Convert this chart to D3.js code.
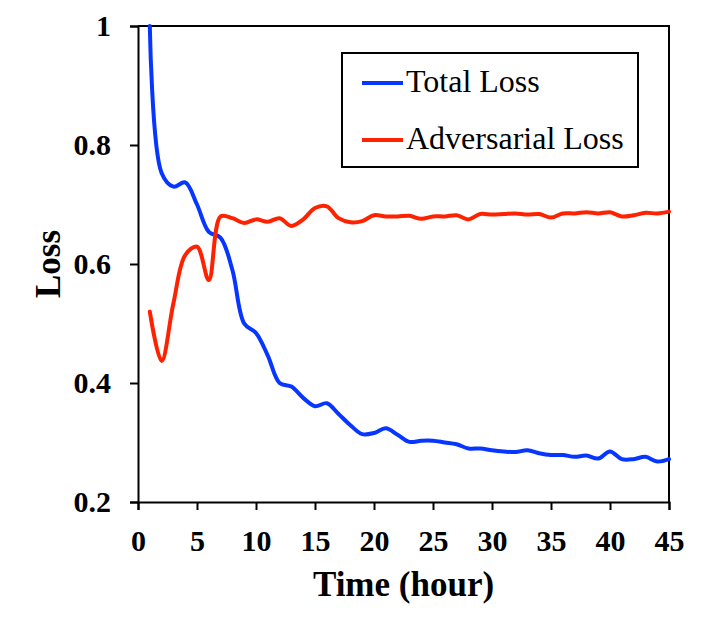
<!DOCTYPE html>
<html>
<head>
<meta charset="utf-8">
<script src="https://cdn.jsdelivr.net/npm/d3@7"></script>
<style>
  body { margin: 0; background: #fff; }
  svg text { font-family: "Liberation Serif", "Times New Roman", serif; }
</style>
</head>
<body>
<div id="chart"></div>
<script>
  const width = 706;
  const height = 629;
  const margin = { top: 26, right: 37, bottom: 127, left: 138 };

  // hours 1..45
  const hours = d3.range(1, 46);
  const totalLoss = [
    1.0, 0.753, 0.730, 0.737, 0.700, 0.654, 0.644, 0.590, 0.500, 0.484,
    0.446, 0.400, 0.394, 0.375, 0.361, 0.366, 0.348, 0.329, 0.314, 0.316,
    0.324, 0.313, 0.301, 0.303, 0.303, 0.300, 0.297, 0.290, 0.290, 0.287,
    0.285, 0.284, 0.287, 0.282, 0.279, 0.279, 0.276, 0.278, 0.273, 0.285,
    0.272, 0.272, 0.276, 0.268, 0.272
  ];
  const adversarialLoss = [
    0.520, 0.437, 0.534, 0.615, 0.629, 0.573, 0.680, 0.677, 0.669, 0.675,
    0.671, 0.677, 0.664, 0.675, 0.694, 0.697, 0.677, 0.670, 0.672, 0.682,
    0.680, 0.680, 0.681, 0.676, 0.680, 0.680, 0.682, 0.675, 0.684, 0.683,
    0.684, 0.685, 0.683, 0.684, 0.678, 0.685, 0.685, 0.687, 0.685, 0.687,
    0.680, 0.682, 0.686, 0.685, 0.688
  ];
  const xTicks = [0, 5, 10, 15, 20, 25, 30, 35, 40, 45];
  const yTicks = [0.2, 0.4, 0.6, 0.8, 1];
  const series = [
    { name: "Total Loss", values: totalLoss, color: "#0636ff" },
    { name: "Adversarial Loss", values: adversarialLoss, color: "#ff2200" }
  ];

  const svg = d3.select("#chart")
    .append("svg")
    .attr("width", width)
    .attr("height", height);

  const x = d3.scaleLinear()
    .domain([0, 45])
    .range([margin.left, width - margin.right]);
  const y = d3.scaleLinear()
    .domain([0.2, 1])
    .range([height - margin.bottom, margin.top]);

  // frame (top and right)
  svg.append("path")
    .attr("d", `M${x(0)},${y(1)}H${x(45)}V${y(0.2)}`)
    .attr("fill", "none")
    .attr("stroke", "#000")
    .attr("stroke-width", 2);

  // axes
  const xAxis = svg.append("g")
    .attr("transform", `translate(0,${y(0.2)})`)
    .call(d3.axisBottom(x).tickValues(xTicks).tickSize(8).tickPadding(20).tickFormat(d3.format("d")));
  const yAxis = svg.append("g")
    .attr("transform", `translate(${x(0)},0)`)
    .call(d3.axisLeft(y).tickValues(yTicks).tickSize(8).tickPadding(19).tickFormat(d => d === 1 ? "1" : d3.format(".1f")(d)));

  [xAxis, yAxis].forEach(g => {
    g.select(".domain").attr("stroke-width", 2).attr("stroke", "#000");
    g.selectAll(".tick line").attr("stroke-width", 2).attr("stroke", "#000");
    g.selectAll(".tick text")
      .attr("fill", "#000")
      .style("font-family", "'Liberation Serif', serif")
      .style("font-size", "30px")
      .style("font-weight", "bold");
  });

  // lines
  const line = d3.line()
    .x((d, i) => x(hours[i]))
    .y(d => y(d))
    .curve(d3.curveCatmullRom.alpha(0.5));

  svg.append("g")
    .selectAll("path")
    .data(series)
    .enter()
    .append("path")
    .attr("d", d => line(d.values))
    .attr("fill", "none")
    .attr("stroke", d => d.color)
    .attr("stroke-width", 4)
    .attr("stroke-linejoin", "round")
    .attr("stroke-linecap", "round");

  // axis titles
  svg.append("text")
    .attr("x", (x(0) + x(45)) / 2)
    .attr("y", 596)
    .attr("text-anchor", "middle")
    .style("font-size", "35px")
    .style("font-weight", "bold")
    .text("Time (hour)");

  svg.append("text")
    .attr("transform", `translate(60,${(y(1) + y(0.2)) / 2}) rotate(-90)`)
    .attr("text-anchor", "middle")
    .style("font-size", "35px")
    .style("font-weight", "bold")
    .text("Loss");

  // legend
  const legend = svg.append("g");
  legend.append("rect")
    .attr("x", 342)
    .attr("y", 53)
    .attr("width", 296)
    .attr("height", 114)
    .attr("fill", "#fff")
    .attr("stroke", "#000")
    .attr("stroke-width", 2);

  const items = legend.selectAll("g.item")
    .data(series)
    .enter()
    .append("g")
    .attr("class", "item")
    .attr("transform", (d, i) => `translate(0,${83 + i * 57})`);
  items.append("line")
    .attr("x1", 362).attr("x2", 403)
    .attr("stroke", d => d.color)
    .attr("stroke-width", 4);
  items.append("text")
    .attr("x", 406)
    .attr("y", 9)
    .style("font-size", "32px")
    .text(d => d.name);
</script>
</body>
</html>
